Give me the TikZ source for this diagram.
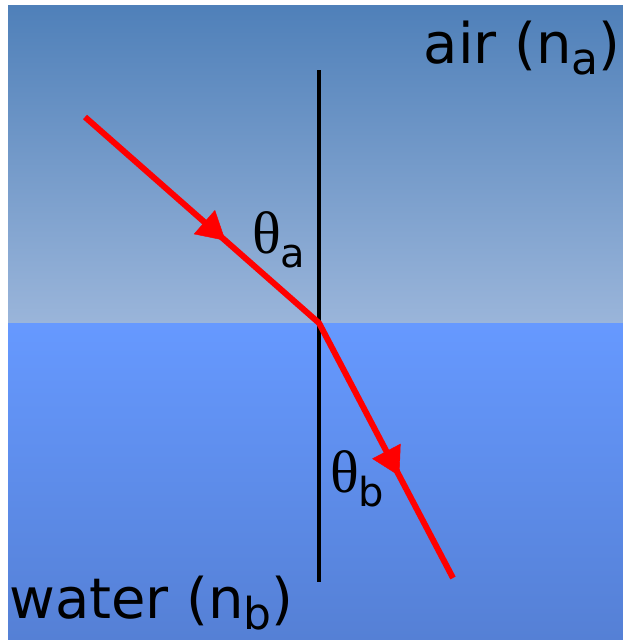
\documentclass[tikz,border=0pt]{standalone}
\usepackage{fontspec}
\setmainfont{DejaVu Sans}
\newfontfamily\thetafont{Liberation Serif}
\usetikzlibrary{decorations.markings,arrows.meta}
\definecolor{airtop}{RGB}{79,128,185}
\definecolor{airbot}{RGB}{154,181,218}
\definecolor{watertop}{RGB}{102,153,255}
\definecolor{waterbot}{RGB}{85,128,213}
\definecolor{rayred}{RGB}{255,0,0}
\tikzset{
  ray/.style={rayred, line width=6pt, line join=miter},
  rayhead/.style={decorate, decoration={markings,
      mark=at position 0.6 with {\arrow[rayred]{Triangle[length=28pt,width=32pt]}}}},
  normal/.style={black, line width=3.5pt},
  lbl/.style={inner sep=0pt, font=\fontsize{56}{60}\selectfont},
  anglelbl/.style={inner sep=0pt, font=\fontsize{56}{60}\selectfont},
}
\newcommand{\subtxt}[1]{\raisebox{-0.2em}{\fontsize{44}{44}\selectfont #1}}
\newcommand{\subang}[1]{\raisebox{-0.26em}{\fontsize{40}{40}\selectfont #1}}
\begin{document}
\begin{tikzpicture}[x=1pt,y=-1pt]
\useasboundingbox (0,0) rectangle (623,640);
\shade[top color=airtop, bottom color=airbot] (8,5) rectangle (623,323);
\shade[top color=watertop, bottom color=waterbot] (8,323) rectangle (623,640);
\coordinate (ntop) at (319,70);
\coordinate (nbot) at (319,582);
\coordinate (src) at (85,117);
\coordinate (hit) at (319,323);
\coordinate (dst) at (453,578);
\draw[normal] (ntop) -- (nbot);
\draw[ray] (src) -- (hit) -- (dst);
\path[rayhead] (src) -- (hit);
\path[rayhead] (hit) -- (dst);
\node[lbl, anchor=base east] (air) at (621,63) {air (n\subtxt{a})};
\node[lbl, anchor=base west] (water) at (9,618) {water (n\subtxt{b})};
\node[anglelbl, anchor=base west] (tha) at (252,253) {{\thetafont\fontsize{60}{60}\selectfont θ}\subang{a}};
\node[anglelbl, anchor=base west] (thb) at (330,492) {{\thetafont\fontsize{60}{60}\selectfont θ}\subang{b}};
\end{tikzpicture}
\end{document}
